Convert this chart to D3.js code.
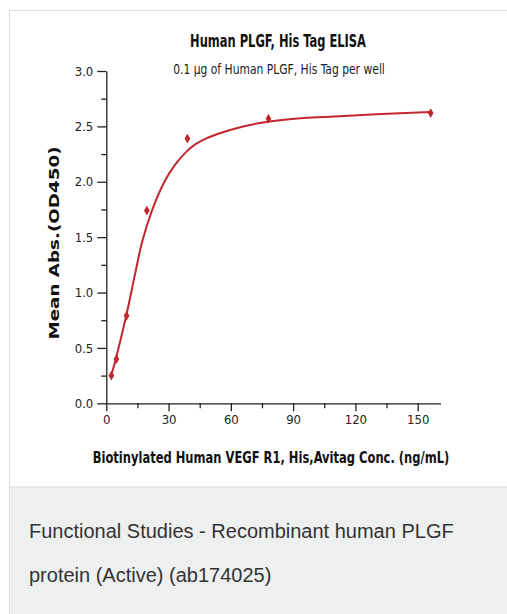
<!DOCTYPE html>
<html lang="en">

<head>
  <meta charset="UTF-8">
  <title>Human PLGF, His Tag ELISA</title>
  <script src="https://d3js.org/d3.v7.min.js"></script>
  <style>
    body {
      margin: 0;
      background: #fff;
    }

    .narrow {
      font-family: "Liberation Sans Narrow", "DejaVu Sans Condensed", "Open Sans", sans-serif;
    }

    .tick text {
      font-family: "Liberation Sans Narrow", "DejaVu Sans Condensed", "Open Sans", sans-serif;
      font-size: 13px;
      fill: #222;
    }
  </style>
</head>

<body>
  <div id="chart"></div>

  <script>
    // measured points (ng/mL, OD450)
    const conc = [2.44, 4.88, 9.77, 19.53, 39.06, 78.13, 156.25];
    const od = [0.25, 0.40, 0.79, 1.74, 2.39, 2.57, 2.62];

    // fitted curve
    const fitConc = [2.34, 4.7, 9.6, 14, 17.3, 22, 28, 33, 38.5, 43, 48, 55, 65, 77, 95, 110, 130, 156.25];
    const fitOd = [0.25, 0.41, 0.79, 1.18, 1.46, 1.74, 2.00, 2.15, 2.27, 2.34, 2.39, 2.44, 2.495, 2.54, 2.575, 2.59, 2.61, 2.63];

    const xTicks = [0, 30, 60, 90, 120, 150];
    const xMinor = [15, 45, 75, 105, 135];
    const yTicks = [0, 0.5, 1.0, 1.5, 2.0, 2.5, 3.0];
    const yMinor = [0.25, 0.75, 1.25, 1.75, 2.25, 2.75];

    const width = 507;
    const height = 614;
    const red = "#c1272d";

    const svg = d3.select("#chart")
      .append("svg")
      .attr("width", width)
      .attr("height", height);

    // squeeze a centred label horizontally so it spans `target` px
    function squeeze(sel, cx, cy, target, rot) {
      const w = sel.node().getComputedTextLength();
      const k = w > 0 ? target / w : 1;
      sel.attr("transform", `translate(${cx},${cy})${rot ? " rotate(" + rot + ")" : ""} scale(${k.toFixed(4)},1)`);
      return sel;
    }

    // card + caption panel
    svg.append("rect")
      .attr("x", 9.5).attr("y", 10.5)
      .attr("width", 520).attr("height", 640)
      .attr("fill", "#fff")
      .attr("stroke", "#dcdcdc");

    svg.append("rect")
      .attr("x", 10).attr("y", 487)
      .attr("width", 520).attr("height", 140)
      .attr("fill", "#eeefef");

    svg.append("line")
      .attr("x1", 10).attr("x2", 520)
      .attr("y1", 487).attr("y2", 487)
      .attr("stroke", "#dcdcdc");

    const x = d3.scaleLinear().domain([0, 161]).range([106.3, 440.5]);
    const y = d3.scaleLinear().domain([0, 3]).range([403.3, 71]);

    // y axis
    const yAxis = svg.append("g")
      .attr("transform", `translate(${x(0)},0)`)
      .call(d3.axisLeft(y).tickValues(yTicks).tickFormat(d3.format(".1f")).tickSize(9).tickSizeOuter(0));
    yAxis.selectAll(".tick text").attr("dx", "-1px");

    svg.append("g")
      .attr("transform", `translate(${x(0)},0)`)
      .call(d3.axisLeft(y).tickValues(yMinor).tickFormat("").tickSize(5).tickSizeOuter(0))
      .select(".domain").remove();

    // x axis
    svg.append("g")
      .attr("transform", `translate(0,${y(0)})`)
      .call(d3.axisBottom(x).tickValues(xTicks).tickSize(8).tickSizeOuter(0))
      .selectAll(".tick text").attr("dy", "0.75em");

    svg.append("g")
      .attr("transform", `translate(0,${y(0)})`)
      .call(d3.axisBottom(x).tickValues(xMinor).tickFormat("").tickSize(5).tickSizeOuter(0))
      .select(".domain").remove();

    svg.selectAll(".domain, .tick line").attr("stroke", "#222").attr("stroke-width", 1.3);

    // fitted curve
    const line = d3.line()
      .x((d, i) => x(fitConc[i]))
      .y(d => y(d))
      .curve(d3.curveCatmullRom.alpha(0.5));

    svg.append("path")
      .datum(fitOd)
      .attr("d", line)
      .attr("fill", "none")
      .attr("stroke", red)
      .attr("stroke-width", 2);

    // data points
    svg.selectAll(".pt")
      .data(od)
      .enter()
      .append("path")
      .attr("class", "pt")
      .attr("d", d3.symbol().type(d3.symbolDiamond).size(28))
      .attr("transform", (d, i) => `translate(${x(conc[i])},${y(d)})`)
      .attr("fill", red);

    // titles
    const title = svg.append("text")
      .attr("class", "narrow")
      .attr("text-anchor", "middle")
      .attr("font-size", 17).attr("font-weight", "bold")
      .attr("fill", "#111")
      .text("Human PLGF, His Tag ELISA");
    squeeze(title, 278, 47, 176);

    const sub = svg.append("text")
      .attr("class", "narrow")
      .attr("text-anchor", "middle")
      .attr("font-size", 14.5)
      .attr("fill", "#222")
      .text("0.1 µg of Human PLGF, His Tag per well");
    squeeze(sub, 279, 74, 212);

    const xTitle = svg.append("text")
      .attr("class", "narrow")
      .attr("text-anchor", "middle")
      .attr("font-size", 15.5).attr("font-weight", "bold")
      .attr("fill", "#111")
      .text("Biotinylated Human VEGF R1, His,Avitag Conc. (ng/mL)");
    squeeze(xTitle, 271, 463, 357);

    const yTitle = svg.append("text")
      .attr("text-anchor", "middle")
      .attr("font-family", "DejaVu Sans, sans-serif")
      .attr("font-size", 14.5).attr("font-weight", "bold")
      .attr("fill", "#111")
      .text("Mean Abs.(OD450)");
    squeeze(yTitle, 59, 243, 193, -90);

    // caption
    const caption = ["Functional Studies - Recombinant human PLGF", "protein (Active) (ab174025)"];
    svg.selectAll(".caption")
      .data(caption)
      .enter()
      .append("text")
      .attr("class", "caption")
      .attr("x", 29)
      .attr("y", (d, i) => 538 + i * 44)
      .attr("font-family", "Liberation Sans, Arial, sans-serif")
      .attr("font-size", 20)
      .attr("fill", "#333")
      .text(d => d);
  </script>
</body>

</html>
